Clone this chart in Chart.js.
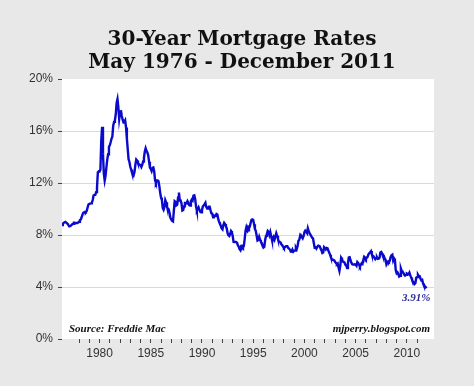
<!DOCTYPE html>
<html lang="en">
<head>
  <meta charset="UTF-8" />
  <title>30-Year Mortgage Rates</title>
  <script src="https://cdn.jsdelivr.net/npm/chart.js"></script>
  <style>
    body {
      margin: 0;
      background: #e8e8e8;
    }
    #wrap {
      width: 474px;
      height: 386px;
    }
  </style>
</head>
<body>
  <div id="wrap"><canvas id="rateChart" width="474" height="386"></canvas></div>

  <script>
    // monthly 30-year fixed rates (%), May 1976 onwards
    const startYear = 1976;
    const startMonth = 5;

    const rates1970s = [
      8.77, 8.88, 8.93, 8.98, 9.01, 8.95, 8.90, 8.81,
      8.72, 8.67, 8.69, 8.75, 8.83, 8.86, 8.94, 8.94, 8.90, 8.92, 8.92, 8.96,
      9.02, 9.15, 9.20, 9.36, 9.57, 9.71, 9.74, 9.78, 9.76, 9.86, 10.11, 10.35,
      10.39, 10.41, 10.43, 10.50, 10.69, 11.04, 11.09, 11.09, 11.30, 11.64, 12.83, 12.90
    ];
    const rates1980s = [
      12.88, 13.04, 15.28, 16.32, 14.26, 12.71, 12.19, 12.56, 13.20, 13.79, 14.21, 14.79,
      14.90, 15.13, 15.40, 15.58, 16.40, 16.70, 16.83, 17.29, 18.16, 18.45, 17.83, 16.92,
      17.40, 17.60, 17.16, 16.89, 16.68, 16.70, 16.82, 16.27, 15.43, 14.61, 13.83, 13.62,
      13.25, 13.04, 12.80, 12.78, 12.63, 12.87, 13.42, 13.81, 13.73, 13.54, 13.44, 13.42,
      13.37, 13.23, 13.39, 13.65, 13.94, 14.42, 14.67, 14.47, 14.35, 14.13, 13.64, 13.18,
      13.08, 12.92, 13.17, 13.20, 12.91, 12.22, 12.03, 12.19, 12.19, 12.14, 11.78, 11.26,
      10.88, 10.71, 10.08, 9.94, 10.14, 10.68, 10.51, 10.20, 10.01, 9.98, 9.70, 9.32,
      9.20, 9.08, 9.04, 9.83, 10.60, 10.54, 10.28, 10.33, 10.89, 11.26, 10.65, 10.65,
      10.43, 9.89, 9.93, 10.20, 10.46, 10.46, 10.43, 10.60, 10.48, 10.30, 10.27, 10.61,
      10.73, 10.65, 11.03, 11.05, 10.77, 10.20, 9.88, 9.99, 10.13, 9.95, 9.77, 9.74
    ];
    const rates1990s = [
      9.90, 10.20, 10.27, 10.37, 10.48, 10.16, 10.04, 10.10, 10.18, 10.18, 9.90, 9.67,
      9.64, 9.37, 9.50, 9.49, 9.47, 9.62, 9.58, 9.24, 9.01, 8.86, 8.71, 8.50,
      8.43, 8.76, 8.94, 8.85, 8.67, 8.51, 8.13, 7.98, 7.92, 8.09, 8.31, 8.22,
      7.91, 7.47, 7.46, 7.46, 7.47, 7.42, 7.21, 7.11, 6.91, 6.83, 7.16, 7.17,
      7.06, 7.15, 7.68, 8.32, 8.60, 8.40, 8.61, 8.51, 8.64, 8.93, 9.17, 9.20,
      9.15, 8.83, 8.46, 8.32, 7.96, 7.57, 7.61, 7.86, 7.64, 7.48, 7.38, 7.20,
      7.03, 7.08, 7.62, 7.93, 8.07, 8.32, 8.25, 8.00, 8.23, 7.92, 7.62, 7.60,
      7.82, 7.65, 7.90, 8.14, 7.94, 7.69, 7.50, 7.48, 7.43, 7.29, 7.21, 7.10,
      6.99, 7.04, 7.13, 7.14, 7.14, 7.00, 6.95, 6.92, 6.72, 6.71, 6.87, 6.72,
      6.79, 6.81, 7.04, 6.92, 7.15, 7.55, 7.63, 7.94, 7.82, 7.85, 7.74, 7.91
    ];
    const rates2000s = [
      8.21, 8.33, 8.24, 8.15, 8.52, 8.29, 8.15, 8.03, 7.91, 7.80, 7.75, 7.38,
      7.03, 7.05, 6.95, 7.08, 7.15, 7.16, 7.13, 6.95, 6.82, 6.62, 6.66, 7.07,
      7.00, 6.89, 7.01, 6.99, 6.81, 6.65, 6.49, 6.29, 6.09, 6.11, 6.07, 6.05,
      5.92, 5.84, 5.75, 5.81, 5.48, 5.23, 5.63, 6.26, 6.15, 5.95, 5.93, 5.88,
      5.71, 5.64, 5.45, 5.83, 6.27, 6.29, 6.06, 5.87, 5.75, 5.72, 5.73, 5.75,
      5.71, 5.63, 5.93, 5.86, 5.72, 5.58, 5.70, 5.82, 5.77, 6.07, 6.33, 6.27,
      6.15, 6.25, 6.32, 6.51, 6.60, 6.68, 6.76, 6.52, 6.40, 6.36, 6.24, 6.14,
      6.22, 6.29, 6.16, 6.18, 6.26, 6.66, 6.70, 6.57, 6.38, 6.38, 6.21, 6.10,
      5.76, 5.92, 5.97, 5.92, 6.04, 6.32, 6.43, 6.48, 6.04, 6.20, 6.09, 5.29,
      5.06, 5.13, 5.00, 4.81, 4.86, 5.42, 5.22, 5.19, 5.06, 4.95, 4.88, 4.93
    ];
    const rates2010s = [
      5.03, 4.99, 4.97, 5.10, 4.89, 4.74, 4.56, 4.43, 4.35, 4.23, 4.30, 4.71,
      4.76, 4.95, 4.84, 4.84, 4.64, 4.51, 4.55, 4.27, 4.11, 4.07, 3.99, 3.91
    ];

    const yTickValues = [0, 4, 8, 12, 16, 20];
    const xLabelYears = [1980, 1985, 1990, 1995, 2000, 2005, 2010];
    const titleLines = ['30-Year Mortgage Rates', 'May 1976 - December 2011'];
    const sourceNote = 'Source: Freddie Mac';
    const siteNote = 'mjperry.blogspot.com';
    const lastLabel = '3.91%';

    const allRates = [...rates1970s, ...rates1980s, ...rates1990s, ...rates2000s, ...rates2010s];
    const points = allRates.map((v, i) => ({
      x: startYear + (startMonth - 1 + i) / 12,
      y: v
    }));

    // white plot background on the grey page
    const plotBg = {
      id: 'plotBg',
      beforeDraw(chart) {
        const { ctx, chartArea: a } = chart;
        ctx.save();
        ctx.fillStyle = '#ffffff';
        ctx.fillRect(a.left, a.top, a.right - a.left, a.bottom - a.top);
        ctx.restore();
      }
    };

    const notes = {
      id: 'notes',
      afterDatasetsDraw(chart) {
        const { ctx, chartArea: a, scales } = chart;
        const last = points[points.length - 1];
        ctx.save();
        ctx.font = "italic bold 11px 'Liberation Serif', serif";
        ctx.fillStyle = '#111';
        ctx.textBaseline = 'alphabetic';
        ctx.textAlign = 'left';
        ctx.fillText(sourceNote, a.left + 7, a.bottom - 7);
        ctx.textAlign = 'right';
        ctx.fillText(siteNote, a.right - 4, a.bottom - 7);

        ctx.fillStyle = '#2b2b95';
        ctx.fillText(lastLabel, scales.x.getPixelForValue(last.x) + 4, scales.y.getPixelForValue(last.y) + 13);
        ctx.restore();
      }
    };

    new Chart(document.getElementById('rateChart'), {
      type: 'line',
      data: {
        datasets: [{
          data: points,
          borderColor: '#0a0acc',
          borderWidth: 2.4,
          pointRadius: 0,
          tension: 0,
          fill: false
        }]
      },
      options: {
        responsive: false,
        animation: false,
        layout: {
          // left pad shifts the centred title a little right, like the original
          padding: { top: 28, right: 0, bottom: 0, left: 10 }
        },
        plugins: {
          legend: { display: false },
          tooltip: { enabled: false },
          title: {
            display: true,
            text: titleLines,
            color: '#111',
            font: { family: "'DejaVu Serif', serif", size: 20, weight: 'bold', lineHeight: 1.15 },
            padding: { top: 0, bottom: 5 }
          }
        },
        scales: {
          x: {
            type: 'linear',
            min: startYear + (startMonth - 1) / 12,
            max: 2012.65,
            afterFit(scale) { scale.height = 47; },
            afterBuildTicks(scale) {
              scale.ticks = scale.ticks.filter(t => Number.isInteger(t.value));
            },
            border: { display: false },
            grid: {
              drawOnChartArea: false,
              tickLength: 4,
              tickColor: '#444'
            },
            ticks: {
              stepSize: 1,
              autoSkip: false,
              maxRotation: 0,
              padding: 3,
              color: '#333',
              font: { family: "'Liberation Sans', Arial, sans-serif", size: 12 },
              callback: v => xLabelYears.includes(v) ? String(v) : ''
            }
          },
          y: {
            min: 0,
            max: 20,
            afterFit(scale) { scale.width = 52; },
            afterBuildTicks(scale) {
              scale.ticks = yTickValues.map(v => ({ value: v }));
            },
            border: { display: false },
            grid: {
              color: ctx => (ctx.tick && (ctx.tick.value === 0 || ctx.tick.value === 20)) ? 'rgba(0,0,0,0)' : '#d9d9d9',
              tickLength: 4,
              tickColor: '#444'
            },
            ticks: {
              padding: 5,
              color: '#333',
              font: { family: "'Liberation Sans', Arial, sans-serif", size: 12 },
              callback: v => v + '%'
            }
          },
          // empty right-hand gutter
          yRight: {
            position: 'right',
            min: 0,
            max: 20,
            afterFit(scale) { scale.width = 40; },
            border: { display: false },
            grid: { display: false },
            ticks: { display: false }
          }
        }
      },
      plugins: [plotBg, notes]
    });
  </script>
</body>
</html>
